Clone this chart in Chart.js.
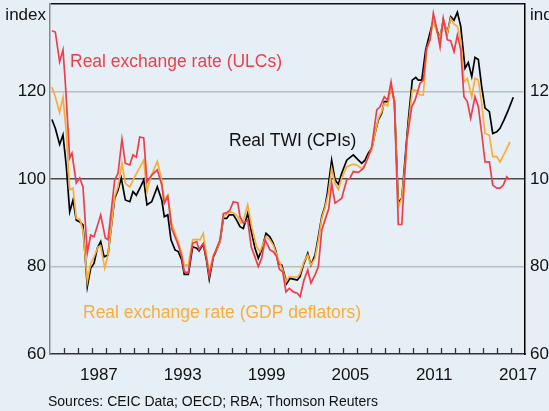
<!DOCTYPE html>
<html>
<head>
<meta charset="utf-8">
<script src="https://cdn.jsdelivr.net/npm/chart.js@4"></script>
<style>
  html, body { margin: 0; padding: 0; background: #e7eff6; }
  #wrap { width: 549px; height: 411px; }
</style>
</head>
<body>
<div id="wrap"><canvas id="chart" width="549" height="411"></canvas></div>
<script>
// quarterly index readings, [decimal year, index]
const ulc = [[1984.14,133.9],[1984.38,133.6],[1984.69,126.8],[1984.93,129.5],[1985.10,121.9],[1985.41,104.8],[1985.57,105.9],[1985.88,99.1],[1986.13,100.2],[1986.36,98.2],[1986.67,83.1],[1986.91,87.2],[1987.15,86.8],[1987.63,91.8],[1987.96,86.5],[1988.15,86.1],[1988.63,99.8],[1988.87,101.3],[1989.15,109.1],[1989.39,103.6],[1989.71,103.2],[1989.94,105.5],[1990.18,105],[1990.42,109.6],[1990.71,109.4],[1990.94,99.3],[1991.04,99.8],[1991.28,100.9],[1991.68,102.1],[1992.00,98.6],[1992.18,94.4],[1992.43,96.0],[1992.71,88.7],[1992.95,86.8],[1993.18,84.9],[1993.43,82.2],[1993.61,78.8],[1993.90,78.6],[1994.21,85.3],[1994.50,85.7],[1994.67,83.9],[1994.97,85.3],[1995.22,81.5],[1995.40,77.8],[1995.69,82.2],[1995.93,84.2],[1996.17,86.1],[1996.41,92.1],[1996.65,92.3],[1996.88,92.9],[1997.12,94.8],[1997.44,94.6],[1997.60,91.4],[1997.84,89.9],[1998.15,90.6],[1998.40,84.5],[1998.67,82.2],[1998.91,80.0],[1999.15,81.9],[1999.40,86.1],[1999.74,83.8],[1999.98,83.4],[2000.23,82.2],[2000.41,79.4],[2000.66,78.8],[2000.89,74.2],[2001.13,75.0],[2001.42,74.2],[2001.70,73.9],[2001.90,73.1],[2002.18,76.9],[2002.45,79.2],[2002.68,76.2],[2002.97,78.1],[2003.21,80.0],[2003.45,88.3],[2003.76,91.4],[2003.95,93.2],[2004.16,99.0],[2004.40,94.5],[2004.64,95.0],[2004.88,95.6],[2005.24,99.8],[2005.47,100.2],[2005.71,101.7],[2006.07,101.5],[2006.43,102.4],[2006.78,105.1],[2007.03,107.4],[2007.39,115.8],[2007.62,116.5],[2007.93,118.8],[2008.17,118],[2008.41,122.2],[2008.65,117.3],[2008.93,89.6],[2009.18,89.6],[2009.54,108.9],[2009.89,116.5],[2010.13,118],[2010.49,121.9],[2010.72,122.6],[2010.96,129.9],[2011.20,131.8],[2011.44,137.9],[2011.68,134.4],[2011.92,130.2],[2012.15,136.7],[2012.44,131.8],[2012.68,131.6],[2012.92,129.1],[2013.16,132.9],[2013.40,129.5],[2013.63,118.8],[2013.87,117.7],[2014.11,113.9],[2014.42,118.8],[2014.66,116.5],[2014.90,110.4],[2015.14,103.9],[2015.45,103.9],[2015.69,98.6],[2015.98,97.9],[2016.21,97.9],[2016.45,98.6],[2016.69,100.5],[2016.88,99.9]];

const gdp = [[1984.14,121.0],[1984.38,118.8],[1984.69,115.2],[1984.93,118.7],[1985.17,110.4],[1985.41,97.5],[1985.65,97.9],[1985.88,91.0],[1986.13,90.8],[1986.36,88.3],[1986.67,76.5],[1986.91,80.7],[1987.15,82.2],[1987.44,84.5],[1987.63,84.7],[1987.92,79.6],[1988.15,82.6],[1988.39,89.1],[1988.63,96],[1988.87,98.2],[1989.15,103.6],[1989.39,99.0],[1989.71,98.2],[1990.06,100.5],[1990.71,104.3],[1990.94,97.1],[1991.04,98.6],[1991.32,101.3],[1991.68,104],[1991.95,100.5],[1992.18,95.2],[1992.43,96.3],[1992.71,89.9],[1992.95,87.6],[1993.18,85.7],[1993.43,83.0],[1993.61,80.3],[1993.90,80.3],[1994.21,86.1],[1994.50,86.2],[1994.74,86.1],[1994.97,87.6],[1995.22,82.2],[1995.40,78.4],[1995.69,82.6],[1995.93,83.8],[1996.17,85.7],[1996.41,91.4],[1996.65,92],[1996.88,92.5],[1997.12,92.3],[1997.44,91.4],[1997.67,89.9],[1997.84,90.6],[1998.15,94.1],[1998.44,89.1],[1998.79,84.5],[1999.03,83.4],[1999.46,86.8],[1999.74,86.1],[1999.98,84.9],[2000.23,82.6],[2000.41,81.1],[2000.66,79.2],[2000.89,76.5],[2001.13,77.7],[2001.42,77.6],[2001.70,77.5],[2001.90,78.4],[2002.18,81.1],[2002.45,82.6],[2002.68,80.3],[2002.97,81.9],[2003.21,86.1],[2003.45,91.0],[2003.68,93.4],[2003.92,96.7],[2004.16,102.4],[2004.40,99.0],[2004.64,97.6],[2004.88,100.2],[2005.24,102.8],[2005.71,103.4],[2005.95,103.2],[2006.31,102.4],[2006.55,103.2],[2006.78,105.1],[2007.03,106.6],[2007.26,110.4],[2007.50,113.8],[2007.74,115.4],[2007.93,117.3],[2008.17,116.7],[2008.41,121],[2008.65,118],[2008.93,93.7],[2009.18,95.5],[2009.41,103],[2009.65,112],[2009.93,120.3],[2010.18,120.3],[2010.49,119.2],[2010.72,119.2],[2010.96,129.5],[2011.20,131.8],[2011.44,136.3],[2011.68,133.7],[2011.92,132.2],[2012.15,136.3],[2012.44,133.3],[2012.68,136.7],[2012.92,135.4],[2013.16,134.9],[2013.40,131.8],[2013.63,122.2],[2013.87,123],[2014.19,118.8],[2014.42,123],[2014.66,122.6],[2014.90,117.3],[2015.14,110.4],[2015.45,110],[2015.69,105.1],[2015.98,105.1],[2016.21,103.9],[2016.50,105.7],[2016.93,108.5]];

const twi = [[1984.14,113.6],[1984.38,111.6],[1984.69,107.9],[1984.93,110.1],[1985.17,102.8],[1985.41,92.5],[1985.65,95.2],[1985.88,90.6],[1986.13,90.2],[1986.36,89.5],[1986.67,75.4],[1986.91,79.6],[1987.15,80.7],[1987.39,84.2],[1987.63,85.7],[1987.87,82.2],[1988.15,82.6],[1988.39,89.1],[1988.63,95.6],[1988.87,97.5],[1989.10,100.2],[1989.39,95.2],[1989.71,94.8],[1989.94,97.1],[1990.18,96.3],[1990.45,98],[1990.71,99.8],[1990.94,94.1],[1991.28,94.8],[1991.68,98.2],[1992.00,95.2],[1992.18,91.4],[1992.43,91.8],[1992.66,86.1],[1992.95,83.8],[1993.18,83.4],[1993.43,81.5],[1993.61,78.2],[1993.90,78.2],[1994.21,84.5],[1994.50,84.2],[1994.67,83.6],[1994.97,85.1],[1995.22,81.1],[1995.40,77.1],[1995.69,82.2],[1995.93,83.8],[1996.17,85.7],[1996.41,91.0],[1996.65,91.0],[1996.83,91.8],[1997.12,91.8],[1997.36,90.6],[1997.60,89.1],[1997.84,88.7],[1998.15,92.1],[1998.44,87.6],[1998.67,84.2],[1998.91,81.9],[1999.15,83.8],[1999.46,87.6],[1999.74,86.8],[1999.98,85.3],[2000.18,83.4],[2000.34,80.7],[2000.59,80.3],[2000.82,77.7],[2000.94,76.1],[2001.18,77.3],[2001.42,77.1],[2001.70,76.9],[2001.90,77.7],[2002.13,80.3],[2002.45,83.0],[2002.68,80.3],[2002.97,82.6],[2003.21,86.8],[2003.45,91.4],[2003.68,93.7],[2003.85,96.7],[2004.16,104.3],[2004.40,99.8],[2004.64,98.8],[2004.88,101.3],[2005.24,104.3],[2005.71,105.5],[2005.95,104.7],[2006.31,103.6],[2006.55,104.3],[2006.78,105.9],[2007.03,107.0],[2007.26,110.4],[2007.50,113.5],[2007.74,115],[2007.93,117.7],[2008.17,117.7],[2008.41,121.1],[2008.65,118],[2008.93,94.6],[2009.18,95.6],[2009.41,104.3],[2009.65,113.5],[2009.93,122.6],[2010.18,123.2],[2010.36,122.6],[2010.61,122.6],[2010.89,129.5],[2011.13,132.5],[2011.44,136.3],[2011.68,134.1],[2011.92,132.2],[2012.15,136.3],[2012.44,133.3],[2012.68,137.1],[2012.92,136.3],[2013.16,138.1],[2013.40,134.9],[2013.71,125.3],[2013.94,126.6],[2014.19,123.4],[2014.42,127.8],[2014.66,127.3],[2014.90,121.1],[2015.14,116.2],[2015.45,115.4],[2015.69,110.4],[2015.98,110.8],[2016.21,111.6],[2016.50,113.5],[2016.81,115.8],[2017.16,118.7]];

const yearLabels = [1987, 1993, 1999, 2005, 2011, 2017];
const yTicks = [60, 80, 100, 120, 140];

const FONT = "'Liberation Sans', Arial, sans-serif";
const RED = '#ee3e4b';
const YELLOW = '#f8ad38';
const BG = '#e7eff6';

const toPts = (arr) => arr.map(([x, y]) => ({ x, y }));

// background, year tick marks and text annotations
const extras = {
  id: 'extras',
  beforeDraw(chart) {
    const c = chart.ctx;
    c.save();
    c.fillStyle = BG;
    c.fillRect(0, 0, chart.width, chart.height);
    c.restore();
  },
  afterDraw(chart) {
    const c = chart.ctx;
    const xs = chart.scales.x;
    const area = chart.chartArea;
    c.save();
    c.strokeStyle = '#333';
    c.lineWidth = 1.3;
    for (let yr = 1985; yr <= 2017; yr++) {
      const px = Math.round(xs.getPixelForValue(yr)) + 0.5;
      c.beginPath();
      c.moveTo(px, area.bottom - 6);
      c.lineTo(px, area.bottom);
      c.stroke();
    }
    c.font = '17px ' + FONT;
    c.fillStyle = '#111';
    c.textBaseline = 'alphabetic';
    c.textAlign = 'right';
    c.fillText('index', area.left - 4, 19.5);
    c.textAlign = 'left';
    c.fillText('index', area.right + 5, 19.5);

    c.font = '17.5px ' + FONT;
    c.fillStyle = RED;
    c.fillText('Real exchange rate (ULCs)', 70, 67);
    c.fillStyle = '#111';
    c.fillText('Real TWI (CPIs)', 229, 146);
    c.fillStyle = YELLOW;
    c.fillText('Real exchange rate (GDP deflators)', 83, 318);

    c.font = '14px ' + FONT;
    c.fillStyle = '#111';
    c.fillText('Sources: CEIC Data; OECD; RBA; Thomson Reuters', 48, 406);
    c.restore();
  }
};

const gridColor = (ctx) => {
  const v = ctx.tick ? ctx.tick.value : null;
  if (v === 100) return '#4a4a4a';
  if (v === 140) return '#111';
  if (v === 60) return 'rgba(0,0,0,0)';
  return '#b8bdc2';
};

const tickFont = { family: FONT, size: 17 };

new Chart(document.getElementById('chart'), {
  type: 'line',
  data: {
    datasets: [
      { label: 'Real exchange rate (ULCs)', data: toPts(ulc), borderColor: RED },
      { label: 'Real exchange rate (GDP deflators)', data: toPts(gdp), borderColor: YELLOW },
      { label: 'Real TWI (CPIs)', data: toPts(twi), borderColor: '#000' }
    ]
  },
  options: {
    responsive: false,
    animation: false,
    devicePixelRatio: 1,
    layout: { padding: { top: 4, left: 0, right: 0, bottom: 0 } },
    elements: {
      point: { radius: 0 },
      line: { tension: 0, borderWidth: 1.7, fill: false }
    },
    plugins: { legend: { display: false }, tooltip: { enabled: false } },
    scales: {
      x: {
        type: 'linear',
        min: 1984,
        max: 2018,
        afterBuildTicks: (s) => { s.ticks = yearLabels.map((v) => ({ value: v + 0.5 })); },
        ticks: {
          callback: (v) => String(Math.floor(v)),
          font: tickFont,
          color: '#111',
          padding: 3,
          maxRotation: 0,
          autoSkip: false
        },
        grid: { display: false },
        border: { display: true, color: '#333', width: 1.5 },
        afterFit: (s) => { s.height = 57; s.paddingLeft = 0; s.paddingRight = 0; }
      },
      y: {
        min: 60,
        max: 140,
        afterBuildTicks: (s) => { s.ticks = yTicks.map((v) => ({ value: v })); },
        ticks: {
          callback: (v) => (v === 140 ? '' : String(v)),
          font: tickFont,
          color: '#111',
          padding: 4
        },
        grid: { color: gridColor, lineWidth: 1.5, drawTicks: false },
        border: { display: true, color: '#8a8a8a', width: 1.5 },
        afterFit: (s) => { s.width = 50; s.paddingTop = 0; s.paddingBottom = 0; }
      },
      y2: {
        position: 'right',
        min: 60,
        max: 140,
        afterBuildTicks: (s) => { s.ticks = yTicks.map((v) => ({ value: v })); },
        ticks: {
          callback: (v) => (v === 140 ? '' : String(v)),
          font: tickFont,
          color: '#111',
          padding: 5
        },
        grid: { display: false, drawTicks: false },
        border: { display: true, color: '#000', width: 1.5 },
        afterFit: (s) => { s.width = 24; s.paddingTop = 0; s.paddingBottom = 0; }
      }
    }
  },
  plugins: [extras]
});
</script>
</body>
</html>
